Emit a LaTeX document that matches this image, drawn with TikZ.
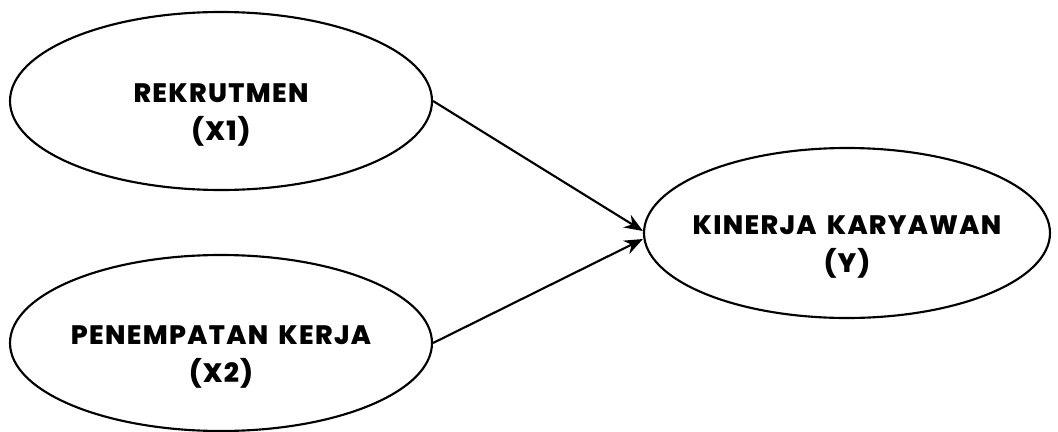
\documentclass[tikz,border=0pt]{standalone}
\usepackage{fontspec}
\newfontfamily\lblfont{Poppins}[BoldFont={Poppins ExtraBold},LetterSpace=5,WordSpace=1.6]
\usetikzlibrary{shapes.geometric,arrows.meta}
\begin{document}
\begin{tikzpicture}[x=0.75pt,y=-0.75pt,
		var/.style={draw,ellipse,line width=1.6pt,inner sep=0pt},
		lbl/.style={align=center,font=\fontsize{20}{28}\lblfont\bfseries},
		arr/.style={-{Stealth[length=14pt,width=11pt]},line width=1.6pt}]
			\useasboundingbox (0,0) rectangle (1058,432);
			\node[var,minimum width=316.5pt,minimum height=133.5pt] (x1) at (221,101) {};
			\node[var,minimum width=316.5pt,minimum height=132pt] (x2) at (221,343) {};
			\node[var,minimum width=304.5pt,minimum height=127.5pt] (y) at (847,233) {};
			\node[lbl] (x1t) at (221,115) {REKRUTMEN\\(X1)};
			\node[lbl] (x2t) at (221,357) {PENEMPATAN KERJA\\(X2)};
			\node[lbl] (yt) at (847,247) {KINERJA KARYAWAN\\(Y)};
			\draw[arr] (x1.east) -- ([yshift=1.5pt]y.west);
			\draw[arr] (x2.east) -- ([yshift=-4.5pt]y.west);
		\end{tikzpicture}
\end{document}
